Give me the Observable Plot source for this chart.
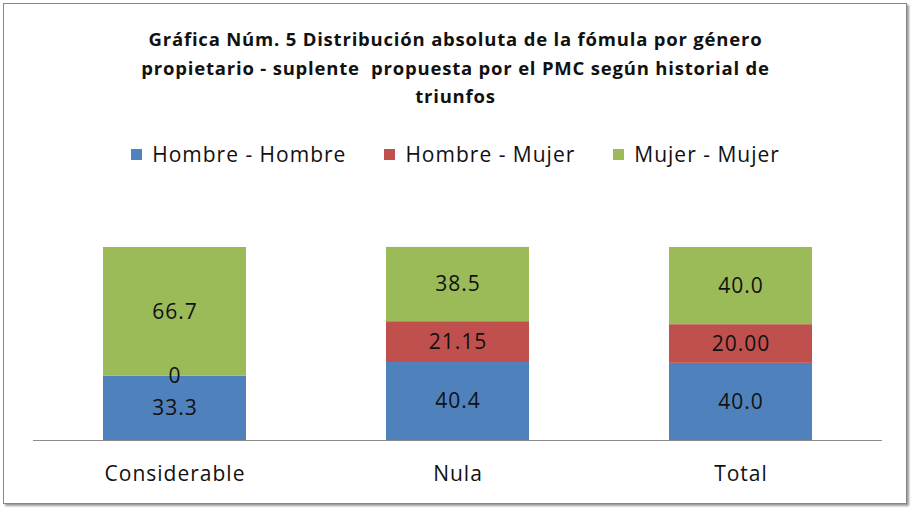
<!DOCTYPE html>
<html>
<head>
<meta charset="utf-8">
<script src="https://cdn.jsdelivr.net/npm/d3@7"></script>
<script src="https://cdn.jsdelivr.net/npm/@observablehq/plot@0.6"></script>
<style>
  html, body { margin: 0; padding: 0; background: #fff; }
  body { width: 911px; height: 510px; position: relative; overflow: hidden; font-family: "Open Sans", Lato, sans-serif; }
  #frame { position: absolute; left: 3px; top: 3px; width: 902px; height: 499px; border: 1px solid #868686; box-shadow: 2px 2px 2px #9a9a9a; }
  #title { position: absolute; left: 0; top: 25px; width: 911px; text-align: center; font-weight: bold; font-size: 18.5px; letter-spacing: 0.8px; line-height: 28.5px; color: #111; }
  #legend { position: absolute; left: 0; top: 140px; width: 911px; display: flex; justify-content: center; font-size: 21px; letter-spacing: 1px; line-height: 28px; color: #111; }
  .item { display: flex; align-items: center; margin: 0 19px; }
  .sw { width: 11px; height: 11px; margin-right: 10px; }
  #chart { position: absolute; left: 0; top: 200px; }
  #chart text { letter-spacing: 1px; }
</style>
</head>
<body>
<div id="frame"></div>
<div id="title">Gráfica Núm. 5 Distribución absoluta de la fómula por género<br>propietario - suplente&nbsp; propuesta por el PMC según historial de<br>triunfos</div>
<div id="legend"></div>
<div id="chart"></div>
<script>
const categories = ["Considerable", "Nula", "Total"];
const series = ["Hombre - Hombre", "Hombre - Mujer", "Mujer - Mujer"];
const colors = ["#4F81BD", "#C0504D", "#9BBB59"];
const hombreHombre = [33.3, 40.4, 40.0];
const hombreMujer = [0, 21.15, 20.0];
const mujerMujer = [66.7, 38.5, 40.0];
const hombreHombreLabels = ["33.3", "40.4", "40.0"];
const hombreMujerLabels = ["0", "21.15", "20.00"];
const mujerMujerLabels = ["66.7", "38.5", "40.0"];

const valuesBySeries = [hombreHombre, hombreMujer, mujerMujer];
const labelsBySeries = [hombreHombreLabels, hombreMujerLabels, mujerMujerLabels];
const data = [];
series.forEach((s, si) => {
  categories.forEach((c, ci) => {
    data.push({cat: c, series: s, value: valuesBySeries[si][ci], label: labelsBySeries[si][ci]});
  });
});

const legend = document.getElementById("legend");
series.forEach((s, i) => {
  const it = document.createElement("div");
  it.className = "item";
  it.innerHTML = `<div class="sw" style="background:${colors[i]}"></div><span>${s}</span>`;
  legend.appendChild(it);
});

const chart = Plot.plot({
  width: 911,
  height: 300,
  marginTop: 47,
  marginBottom: 60,
  marginLeft: 33,
  marginRight: 29,
  style: {fontFamily: "'Open Sans', Lato, sans-serif", fontSize: "21px", color: "#111", background: "transparent"},
  x: {domain: categories, paddingInner: 0.495, paddingOuter: 0.2475, label: null, tickSize: 0, tickPadding: 26},
  y: {domain: [0, 100], axis: null},
  color: {domain: series, range: colors},
  marks: [
    Plot.barY(data, Plot.stackY({x: "cat", y: "value", z: "series", fill: "series"})),
    Plot.text(data, Plot.stackY({x: "cat", y: "value", z: "series", text: "label", fontSize: 21, fill: "#111"})),
    Plot.ruleY([0], {stroke: "#8c8c8c", strokeWidth: 1})
  ]
});
document.getElementById("chart").appendChild(chart);
</script>
</body>
</html>
